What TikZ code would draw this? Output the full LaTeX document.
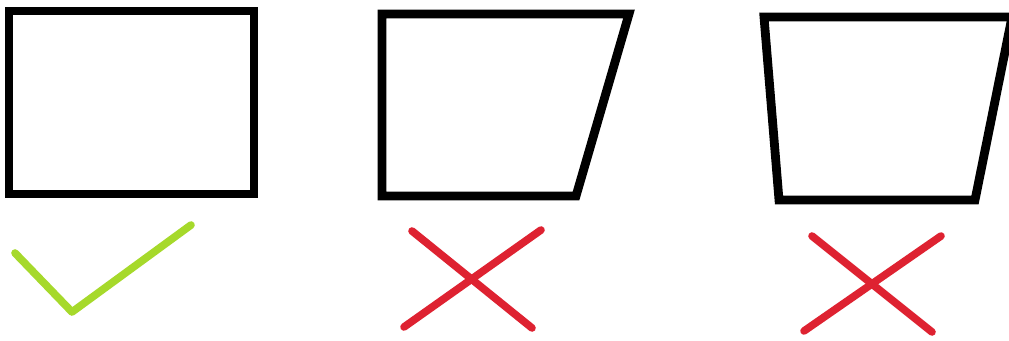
\documentclass[tikz,border=0pt]{standalone}
\usepackage{tikz}

\definecolor{okgreen}{HTML}{A6D92B}
\definecolor{badred}{HTML}{DE2231}

\begin{document}
\begin{tikzpicture}[x=0.03cm,y=-0.03cm,
            outline/.style={black, line width=7.5pt, line join=miter},
            okmark/.style={okgreen, line width=6.5pt, line cap=round, line join=round},
            badmark/.style={badred, line width=6.5pt, line cap=round}]
            \useasboundingbox (0,0) rectangle (1009,341);
            \fill[white] (0,0) rectangle (1009,341);
            % shapes
            \draw[outline] (9,11) -- (254,11) -- (254,194) -- (9,194) -- cycle;
            \draw[outline] (382,14) -- (629,14) -- (576,196) -- (382,196) -- cycle;
            \draw[outline] (764,17) -- (1012,17) -- (975,200) -- (779,200) -- cycle;
            % marks
            \draw[okmark] (15,253) -- (72,312) -- (191,225);
            \draw[badmark] (412,231) -- (532,328);
            \draw[badmark] (541,230) -- (404,327);
            \draw[badmark] (812,236) -- (932,332);
            \draw[badmark] (941,236) -- (804,331);
        \end{tikzpicture}
\end{document}
